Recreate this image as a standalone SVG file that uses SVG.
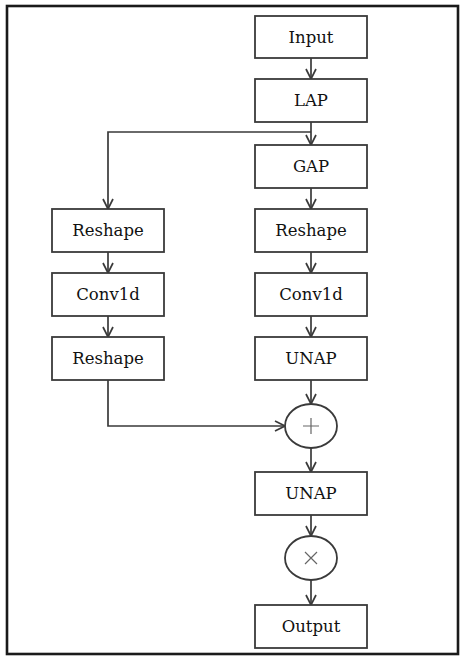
<svg xmlns="http://www.w3.org/2000/svg" width="466" height="662" viewBox="0 0 466 662">
<style>
.box{fill:#fff;stroke:#3a3a3a;stroke-width:1.8}
.op{fill:#fff;stroke:#3a3a3a;stroke-width:1.8}
.sym{stroke:#666;stroke-width:1.2;fill:none}
.lbl{font-family:"DejaVu Serif","Liberation Serif",serif;font-size:16.5px;fill:#111;text-anchor:middle}
.c{fill:none;stroke:#3a3a3a;stroke-width:1.7;marker-end:url(#ah)}
</style>
<defs>
<marker id="ah" viewBox="0 0 12 12" refX="11" refY="6" markerWidth="12" markerHeight="12" markerUnits="userSpaceOnUse" orient="auto">
<path d="M1,1 L11,6 L1,11" fill="none" stroke="#3a3a3a" stroke-width="1.7"/>
</marker>
</defs>
<rect x="0" y="0" width="466" height="662" fill="#fff"/>
<rect x="7" y="6" width="451" height="648" fill="none" stroke="#1a1a1a" stroke-width="2.6"/>
<g id="connectors">
<path class="c" d="M311,58 V79"/>
<path class="c" d="M311,122 V145"/>
<path class="c" d="M311,132 H108 V209"/>
<path class="c" d="M311,188 V209"/>
<path class="c" d="M108,252 V273"/>
<path class="c" d="M311,252 V273"/>
<path class="c" d="M108,316 V337"/>
<path class="c" d="M311,316 V337"/>
<path class="c" d="M311,380 V404"/>
<path class="c" d="M108,380 V426 H285"/>
<path class="c" d="M311,448 V472"/>
<path class="c" d="M311,515 V536"/>
<path class="c" d="M311,580 V605"/>
</g>
<g id="input"><rect class="box" x="255" y="16" width="112" height="42"/><text class="lbl" x="311" y="43">Input</text></g>
<g id="lap"><rect class="box" x="255" y="79" width="112" height="43"/><text class="lbl" x="311" y="106">LAP</text></g>
<g id="gap"><rect class="box" x="255" y="145" width="112" height="43"/><text class="lbl" x="311" y="172">GAP</text></g>
<g id="reshape-left-1"><rect class="box" x="52" y="209" width="112" height="43"/><text class="lbl" x="108" y="236">Reshape</text></g>
<g id="reshape-right"><rect class="box" x="255" y="209" width="112" height="43"/><text class="lbl" x="311" y="236">Reshape</text></g>
<g id="conv1d-left"><rect class="box" x="52" y="273" width="112" height="43"/><text class="lbl" x="108" y="300">Conv1d</text></g>
<g id="conv1d-right"><rect class="box" x="255" y="273" width="112" height="43"/><text class="lbl" x="311" y="300">Conv1d</text></g>
<g id="reshape-left-2"><rect class="box" x="52" y="337" width="112" height="43"/><text class="lbl" x="108" y="364">Reshape</text></g>
<g id="unap-1"><rect class="box" x="255" y="337" width="112" height="43"/><text class="lbl" x="311" y="364">UNAP</text></g>
<g id="plus"><ellipse class="op" cx="311" cy="426" rx="26" ry="22"/><path class="sym" d="M303,426 H319 M311,418 V434"/></g>
<g id="unap-2"><rect class="box" x="255" y="472" width="112" height="43"/><text class="lbl" x="311" y="499">UNAP</text></g>
<g id="times"><ellipse class="op" cx="311" cy="558" rx="26" ry="22"/><path class="sym" d="M305,552 L317,564 M317,552 L305,564"/></g>
<g id="output"><rect class="box" x="255" y="605" width="112" height="43"/><text class="lbl" x="311" y="632">Output</text></g>
</svg>
